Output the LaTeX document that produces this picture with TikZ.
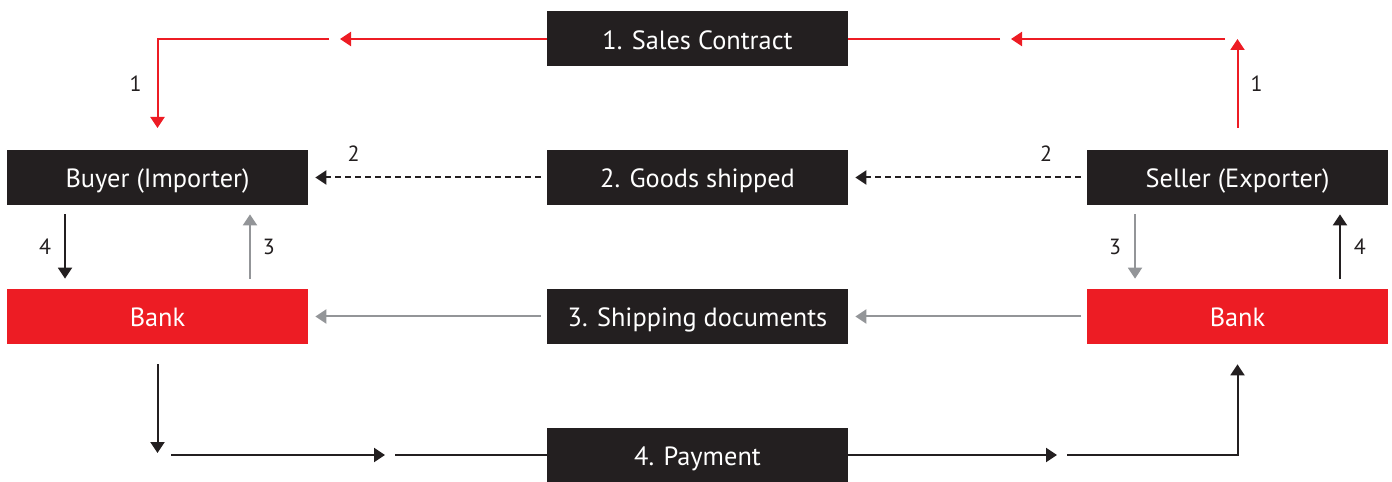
\documentclass[tikz,border=0pt]{standalone}
\usepackage{fontspec}
\setmainfont{PT Sans}
\usetikzlibrary{arrows.meta, positioning}
\usepackage{xcolor}
\definecolor{tradered}{RGB}{237,28,36}
\definecolor{tradeblack}{RGB}{35,31,32}
\definecolor{tradegrey}{RGB}{147,149,152}
\tikzset{
	x=0.02cm, y=-0.02cm,
	>={Triangle[length=0.22cm,width=0.28cm]},
	box/.style={fill=tradeblack, text=white, minimum width=6.02cm, minimum height=1.1cm, inner sep=0pt, text height=0.42cm, text depth=0pt, font=\fontsize{15}{18}\selectfont},
	bankbox/.style={box, fill=tradered},
	lbl/.style={inner sep=0pt, text=tradeblack, font=\fontsize{12.5}{15}\selectfont},
	redline/.style={draw=tradered, line width=0.04cm},
	blackline/.style={draw=tradeblack, line width=0.04cm},
	greyline/.style={draw=tradegrey, line width=0.04cm},
	dashline/.style={blackline, dash pattern=on 0.12cm off 0.08cm}}

\begin{document}
\begin{tikzpicture}
		\useasboundingbox (0,0) rectangle (1392,482);
		\node[box] (sc) at (697.5,39) {1. Sales Contract};
		\node[box] (buyer) at (157.5,177.5) {Buyer (Importer)};
		\node[box] (goods) at (697.5,177.5) {2. Goods shipped};
		\node[box] (seller) at (1237.5,177.5) {Seller (Exporter)};
		\node[bankbox] (bankL) at (157.5,316.5) {Bank};
		\node[box] (docs) at (697.5,316.5) {3. Shipping documents};
		\node[bankbox] (bankR) at (1237.5,316.5) {Bank};
		\node[box, minimum height=1.08cm] (pay) at (697.5,455) {4. Payment};

		\coordinate (c1a) at (340,39);
		\coordinate (c1b) at (329,39);
		\coordinate (c1c) at (157.5,39);
		\coordinate (c1d) at (157.5,128);
		\coordinate (c1e) at (1237.5,128);
		\coordinate (c1f) at (1237.5,39);
		\coordinate (c1g) at (1225,39);
		\coordinate (c1h) at (1011,39);
		\coordinate (c1i) at (1000,39);
		\coordinate (c4a) at (157.5,453);
		\coordinate (c4b) at (171,455);
		\coordinate (c4c) at (385,455);
		\coordinate (c4d) at (395,455);
		\coordinate (c4e) at (1057,455);
		\coordinate (c4f) at (1067,455);
		\coordinate (c4g) at (1237.5,455);

		\draw[redline,->] (sc.west) -- (c1a);
		\draw[redline,->] (c1b) -- (c1c) -- node[lbl, left=0.3cm] {1} (c1d);
		\draw[redline,->] (c1e) -- node[lbl, right=0.24cm] {1} (c1f);
		\draw[redline,->] (c1g) -- (c1h);
		\draw[redline] (c1i) -- (sc.east);

		\draw[dashline,->,shorten <=0.12cm, shorten >=0.14cm] (goods.west) -- node[lbl, pos=0.81, above=0.3cm] {2} (buyer.east);
		\draw[dashline,->,shorten <=0.12cm, shorten >=0.14cm] (seller.west) -- node[lbl, pos=0.17, above=0.3cm] {2} (goods.east);
		\draw[greyline,->,shorten <=0.12cm, shorten >=0.14cm] (docs.west) -- (bankL.east);
		\draw[greyline,->,shorten <=0.12cm, shorten >=0.14cm] (bankR.west) -- (docs.east);

		\draw[blackline,->,shorten <=0.18cm, shorten >=0.2cm] ([xshift=-1.85cm]buyer.south) -- node[lbl, left=0.26cm] {4} ([xshift=-1.85cm]bankL.north);
		\draw[greyline,->,shorten <=0.2cm, shorten >=0.18cm] ([xshift=1.85cm]bankL.north) -- node[lbl, right=0.24cm] {3} ([xshift=1.85cm]buyer.south);
		\draw[greyline,->,shorten <=0.18cm, shorten >=0.2cm] ([xshift=-2.05cm]seller.south) -- node[lbl, left=0.26cm] {3} ([xshift=-2.05cm]bankR.north);
		\draw[blackline,->,shorten <=0.2cm, shorten >=0.18cm] ([xshift=2.05cm]bankR.north) -- node[lbl, right=0.26cm] {4} ([xshift=2.05cm]seller.south);

		\draw[blackline,->,shorten <=0.4cm] (bankL.south) -- (c4a);
		\draw[blackline,->] (c4b) -- (c4c);
		\draw[blackline] (c4d) -- (pay.west);
		\draw[blackline,->] (pay.east) -- (c4e);
		\draw[blackline,->,shorten >=0.4cm] (c4f) -- (c4g) -- (bankR.south);
	\end{tikzpicture}
\end{document}
